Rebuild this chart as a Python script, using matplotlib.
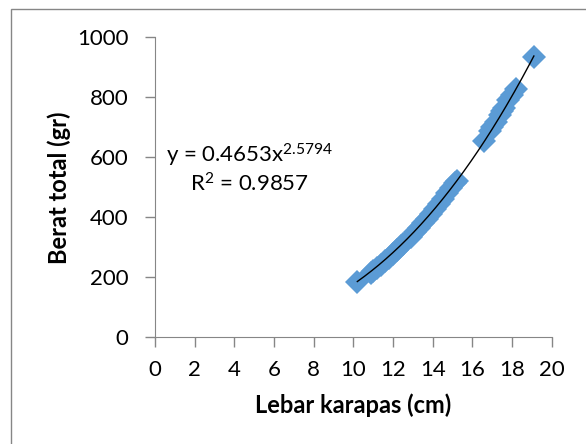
import numpy as np
import matplotlib.pyplot as plt
from matplotlib.patches import Rectangle

# carapace width (cm) and total weight (gr)
lebar = [10.2, 10.9, 11.0, 11.2, 11.4, 11.6, 11.8, 12.0, 12.2, 12.4, 12.5,
         12.9, 13.1, 13.3, 13.5, 13.7, 13.9, 14.1, 14.3, 14.5, 14.7, 14.9, 15.1, 15.2,
         16.6, 16.9, 17.0, 17.2, 17.4, 17.5, 17.6, 17.8, 18.0, 18.2, 19.1]
berat = [185, 215, 222, 232, 242, 255, 265, 278, 292, 305, 312,
         335, 350, 365, 380, 396, 412, 428, 445, 462, 480, 498, 515, 522,
         655, 688, 700, 718, 740, 755, 765, 790, 808, 828, 935]

# power trendline coefficients as printed on the chart
coef_a = 0.4653
coef_b = 2.5794
r2 = 0.9857

x_ticks = [0, 2, 4, 6, 8, 10, 12, 14, 16, 18, 20]
y_ticks = [0, 200, 400, 600, 800, 1000]

plt.rcParams['font.family'] = ['Lato', 'DejaVu Sans']
plt.rcParams['mathtext.fontset'] = 'custom'
plt.rcParams['mathtext.rm'] = 'Lato'
plt.rcParams['mathtext.it'] = 'Lato'

fig = plt.figure(figsize=(5.86, 4.44), dpi=100)
ax = fig.add_axes([0.2645, 0.2403, 0.677, 0.6757])

# chart area border like Excel (only left and top edges are inside the picture)
fig.patches.append(Rectangle((11 / 586, -0.1), 1.2, 1.1 - 9.3 / 444,
                             transform=fig.transFigure, fill=False,
                             edgecolor='#868686', linewidth=1))

ax.plot(lebar, berat, linestyle='none', marker='D', markersize=12.5,
        color='#5B9BD5', markeredgewidth=0, zorder=2, clip_on=False)

xs = np.linspace(min(lebar), max(lebar), 200)
ax.plot(xs, coef_a * xs ** coef_b, color='black', linewidth=1, zorder=3)

ax.set_xlim(0, 20)
ax.set_ylim(0, 1000)
ax.set_xticks(x_ticks)
ax.set_yticks(y_ticks)
ax.tick_params(labelsize=16, color='#868686', length=7, width=1)
ax.tick_params(axis='x', pad=9)
ax.tick_params(axis='y', pad=12)

for side in ['top', 'right']:
    ax.spines[side].set_visible(False)
for side in ['left', 'bottom']:
    ax.spines[side].set_color('#868686')

ax.set_xlabel('Lebar karapas (cm)', fontsize=17, fontweight='bold', labelpad=10)
ax.set_ylabel('Berat total (gr)', fontsize=17, fontweight='bold', labelpad=4.5)

ax.text(0.55, 583, 'y = %.4fx$^{%.4f}$' % (coef_a, coef_b), fontsize=16,
        va='baseline', ha='left')
ax.text(1.77, 485, 'R$^{2}$ = %.4f' % r2, fontsize=16, va='baseline', ha='left')

plt.savefig('out.png', dpi=100)
plt.close()
